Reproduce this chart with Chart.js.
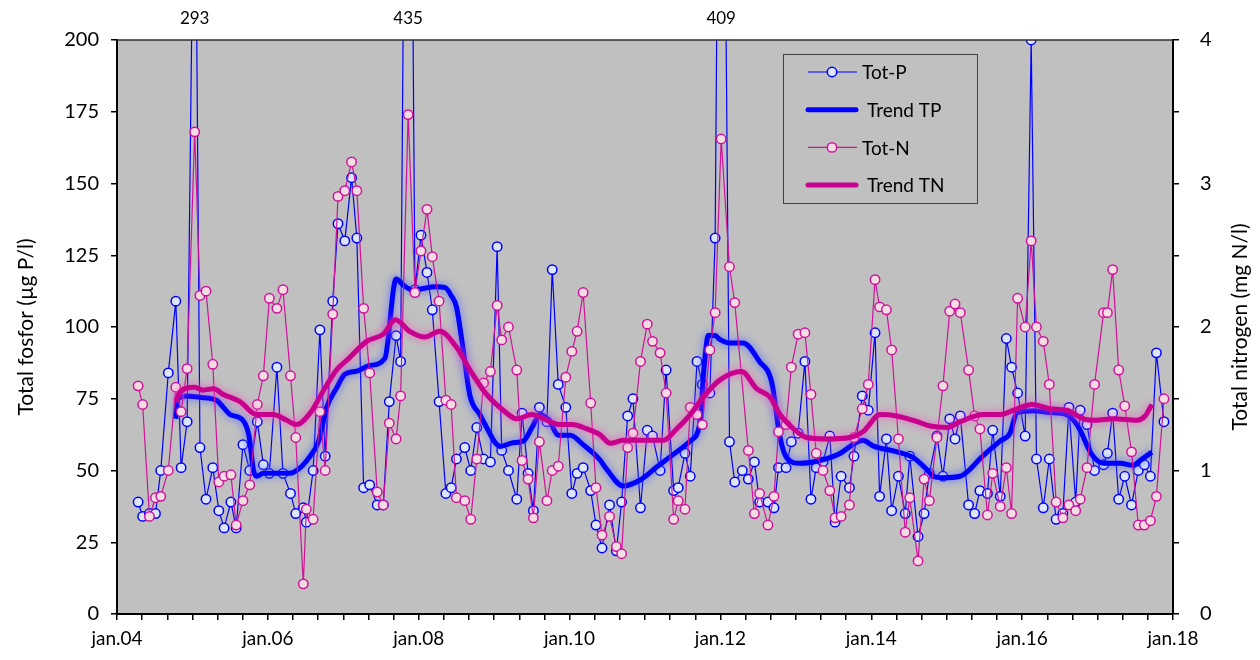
<!DOCTYPE html>
<html>
<head>
<meta charset="utf-8">
<script src="https://cdn.jsdelivr.net/npm/chart.js@4.4.0/dist/chart.umd.min.js"></script>
<style>
  body { margin: 0; background: #fff; }
  #wrap { width: 1260px; height: 660px; }
</style>
</head>
<body>
<div id="wrap"><canvas id="chart" width="1260" height="660"></canvas></div>
<script>
// sample dates (decimal years), shared by Tot-P and Tot-N
const dates = [
  2004.28, 2004.34, 2004.43, 2004.51, 2004.58, 2004.68, 2004.78, 2004.85, 2004.93, 2005.03, 2005.10, 2005.18, 2005.27, 2005.35, 2005.42, 2005.51, 2005.58,
  2005.67, 2005.76, 2005.86, 2005.94, 2006.02, 2006.12, 2006.20, 2006.30, 2006.37, 2006.47, 2006.51, 2006.60, 2006.69, 2006.76, 2006.86, 2006.93, 2007.02, 2007.11, 2007.18,
  2007.27, 2007.35, 2007.45, 2007.53, 2007.61, 2007.70, 2007.76, 2007.86, 2007.95, 2008.03, 2008.11, 2008.18, 2008.27, 2008.36, 2008.43, 2008.50, 2008.61, 2008.69, 2008.77,
  2008.86, 2008.95, 2009.04, 2009.10, 2009.19, 2009.30, 2009.37, 2009.45, 2009.52, 2009.60, 2009.70, 2009.77, 2009.85, 2009.95, 2010.03, 2010.10, 2010.18, 2010.28, 2010.35, 2010.43,
  2010.53, 2010.62, 2010.69, 2010.77, 2010.84, 2010.94, 2011.03, 2011.10, 2011.20, 2011.28, 2011.38, 2011.44, 2011.53, 2011.60, 2011.69, 2011.76, 2011.86, 2011.93, 2012.01,
  2012.12, 2012.19, 2012.29, 2012.37, 2012.45, 2012.52, 2012.63, 2012.71, 2012.77, 2012.87, 2012.94, 2013.03, 2013.12, 2013.20, 2013.27, 2013.36, 2013.45, 2013.52, 2013.60,
  2013.71, 2013.77, 2013.88, 2013.96, 2014.05, 2014.11, 2014.20, 2014.27, 2014.36, 2014.45, 2014.51, 2014.62, 2014.70, 2014.77, 2014.87, 2014.95, 2015.04, 2015.11, 2015.18,
  2015.29, 2015.37, 2015.44, 2015.54, 2015.61, 2015.71, 2015.79, 2015.86, 2015.94, 2016.04, 2016.12, 2016.19, 2016.28, 2016.36, 2016.45, 2016.54, 2016.62, 2016.71, 2016.77,
  2016.86, 2016.96, 2017.08, 2017.13, 2017.20, 2017.28, 2017.36, 2017.45, 2017.54, 2017.62, 2017.70, 2017.78, 2017.88
];

// Tot-P, µg P/l
const totP = [
  39, 34, 35, 35, 50, 84, 109, 51, 67, 293, 58, 40, 51, 36, 30, 39, 30,
  59, 50, 67, 52, 49, 86, 49, 42, 35, 37, 32, 50, 99, 55, 109, 136, 130, 152, 131,
  44, 45, 38, 38, 74, 97, 88, 435, 113, 132, 119, 106, 74, 42, 44, 54, 58, 50, 65,
  54, 53, 128, 57, 50, 40, 70, 49, 36, 72, 67, 120, 80, 72, 42, 49, 51, 43, 31, 23,
  38, 22, 39, 69, 75, 37, 64, 62, 50, 85, 43, 44, 56, 48, 88, 80, 77, 131, 409,
  60, 46, 50, 47, 53, 39, 39, 37, 51, 51, 60, 63, 88, 40, 51, 53, 62, 32, 48,
  44, 55, 76, 71, 98, 41, 61, 36, 48, 35, 55, 27, 35, 49, 62, 48, 68, 61, 69,
  38, 35, 43, 42, 64, 41, 96, 86, 77, 62, 200, 54, 37, 54, 33, 35, 72, 39, 71,
  66, 50, 52, 56, 70, 40, 48, 38, 50, 52, 48, 91, 67
];

// Tot-N, mg N/l
const totN = [
  1.59, 1.46, 0.68, 0.81, 0.82, 1.00, 1.58, 1.41, 1.71, 3.36, 2.22, 2.25, 1.74, 0.92, 0.96, 0.97, 0.62,
  0.79, 0.90, 1.46, 1.66, 2.20, 2.13, 2.26, 1.66, 1.23, 0.21, 0.73, 0.66, 1.41, 1.00, 2.09, 2.91, 2.95, 3.15, 2.95,
  2.13, 1.68, 0.85, 0.76, 1.33, 1.22, 1.52, 3.48, 2.24, 2.53, 2.82, 2.49, 2.18, 1.49, 1.46, 0.81, 0.79, 0.66, 1.08,
  1.61, 1.69, 2.15, 1.91, 2.00, 1.70, 1.07, 0.94, 0.67, 1.20, 0.79, 1.00, 1.03, 1.65, 1.83, 1.97, 2.24, 1.47, 0.88, 0.55,
  0.68, 0.47, 0.42, 1.16, 1.26, 1.76, 2.02, 1.90, 1.82, 1.54, 0.66, 0.79, 0.73, 1.44, 1.39, 1.32, 1.84, 2.10, 3.31,
  2.42, 2.17, null, 1.14, 0.70, 0.84, 0.62, 0.82, 1.27, 1.32, 1.72, 1.95, 1.96, 1.53, 1.12, 1.00, 0.86, 0.67, 0.68,
  0.76, 1.23, 1.43, 1.60, 2.33, 2.14, 2.12, 1.84, 1.22, 0.57, 0.81, 0.37, 0.94, 0.79, 1.23, 1.59, 2.11, 2.16, 2.10,
  1.70, 1.38, 1.29, 0.69, 0.98, 0.75, 1.02, 0.70, 2.20, 2.00, 2.60, 2.00, 1.90, 1.60, 0.78, 0.67, 0.76, 0.72, 0.80,
  1.02, 1.60, 2.10, 2.10, 2.40, 1.70, 1.45, 1.13, 0.62, 0.62, 0.65, 0.82, 1.50
];

// trend lines
const trendTPDates = [
  2004.78, 2004.81, 2004.92, 2005.10, 2005.32, 2005.41, 2005.50, 2005.67, 2005.75, 2005.81, 2005.85, 2005.94, 2006.12, 2006.29, 2006.43,
  2006.56, 2006.67, 2006.78, 2006.91, 2007.02, 2007.18, 2007.35, 2007.55, 2007.70, 2007.80, 2007.93, 2008.06, 2008.22, 2008.35, 2008.43,
  2008.50, 2008.59, 2008.68, 2008.81, 2008.86, 2009.08, 2009.25, 2009.39, 2009.50, 2009.61, 2009.74, 2009.85, 2010.01, 2010.18, 2010.40,
  2010.49, 2010.71, 2010.93, 2011.15, 2011.38, 2011.60, 2011.73, 2011.78, 2011.84, 2011.93, 2011.99, 2012.13, 2012.30, 2012.52, 2012.68,
  2012.79, 2012.88, 2013.05, 2013.32, 2013.59, 2013.78, 2013.89, 2014.03, 2014.34, 2014.56, 2014.73, 2014.82, 2014.95, 2015.18, 2015.48,
  2015.71, 2015.84, 2015.93, 2016.15, 2016.37, 2016.59, 2016.70, 2016.77, 2016.92, 2017.08, 2017.30, 2017.47, 2017.58, 2017.72
];
const trendTP = [
  68, 75, 76, 75.5, 74.5, 72, 69.5, 67.5, 62, 50, 48, 49, 49, 49, 51,
  55, 60, 72, 78.7, 83.5, 84.6, 86.6, 89, 116.7, 114.5, 112.8, 113.4, 114, 113.7, 111,
  107, 92, 76, 69.5, 67, 58.4, 59.7, 60.3, 64.9, 69.5, 66.9, 62.3, 62.3, 59, 53.8,
  50.5, 44.6, 46.6, 51.1, 55.7, 60.3, 66.9, 85, 97, 97, 95.7, 94.4, 94.4, 87.9, 80.7,
  61.6, 54.4, 52.5, 53.5, 56, 59.5, 60.5, 58.5, 56.5, 54.4, 50.5, 48, 47.5, 48, 55.1,
  60.3, 63, 70.2, 70.8, 70.2, 69.5, 67, 64, 55.7, 52.5, 52.5, 51.8, 53.8, 56.4
];

const trendTNDates = [
  2004.78, 2004.84, 2005.03, 2005.14, 2005.28, 2005.41, 2005.63, 2005.85, 2006.07, 2006.25, 2006.38, 2006.56, 2006.73, 2006.91, 2007.07,
  2007.31, 2007.53, 2007.69, 2007.88, 2008.08, 2008.28, 2008.50, 2008.68, 2008.90, 2009.12, 2009.30, 2009.50, 2009.70, 2009.87, 2010.03,
  2010.23, 2010.40, 2010.54, 2010.71, 2010.93, 2011.24, 2011.42, 2011.60, 2011.77, 2011.99, 2012.28, 2012.48, 2012.66, 2012.79, 2012.97,
  2013.14, 2013.41, 2013.72, 2013.89, 2014.12, 2014.34, 2014.61, 2014.78, 2015.00, 2015.18, 2015.48, 2015.71, 2015.93, 2016.13, 2016.37,
  2016.59, 2016.81, 2016.97, 2017.21, 2017.52, 2017.63, 2017.72
];
const trendTN = [
  1.48, 1.55, 1.58, 1.56, 1.57, 1.53, 1.48, 1.39, 1.39, 1.35, 1.32, 1.40, 1.55, 1.70, 1.78,
  1.90, 1.95, 2.05, 1.97, 1.93, 1.97, 1.86, 1.70, 1.53, 1.42, 1.36, 1.39, 1.35, 1.32, 1.32,
  1.29, 1.25, 1.19, 1.21, 1.21, 1.21, 1.29, 1.39, 1.51, 1.63, 1.69, 1.57, 1.51, 1.39, 1.29,
  1.23, 1.22, 1.23, 1.27, 1.39, 1.38, 1.34, 1.31, 1.30, 1.34, 1.39, 1.39, 1.43, 1.46, 1.43,
  1.42, 1.36, 1.35, 1.36, 1.35, 1.38, 1.46
];

const seriesNames = ['Tot-P', 'Trend TP', 'Tot-N', 'Trend TN'];
const pMax = 200;
const FONT = 'Lato, "Open Sans", sans-serif';

const toXY = (xs, ys) => xs.map((x, i) => ({ x: x, y: ys[i] }));

// gray plot area, top frame line
const plotBackground = {
    id: 'plotBackground',
    beforeDraw(chart) {
        const { ctx, chartArea: a } = chart;
        ctx.save();
        ctx.fillStyle = '#c0c0c0';
        ctx.fillRect(a.left, a.top, a.right - a.left, a.bottom - a.top);
        ctx.restore();
    },
    afterDraw(chart) {
        const { ctx, chartArea: a } = chart;
        ctx.save();
        ctx.strokeStyle = '#303030';
        ctx.lineWidth = 1.5;
        ctx.beginPath();
        ctx.moveTo(a.left, a.top);
        ctx.lineTo(a.right, a.top);
        ctx.stroke();
        ctx.restore();
    }
};

// soft halo round the trend lines
const glow = {
    id: 'glow',
    beforeDatasetDraw(chart, args) {
        const ds = chart.data.datasets[args.index];
        if (!ds.glowColor) return;
        chart.ctx.save();
        chart.ctx.shadowColor = ds.glowColor;
        chart.ctx.shadowBlur = 8;
    },
    afterDatasetDraw(chart, args) {
        if (chart.data.datasets[args.index].glowColor) chart.ctx.restore();
    }
};

// axis titles, off-scale peak values and the boxed legend
const extras = {
    id: 'extras',
    afterDraw(chart) {
        const { ctx, chartArea: a } = chart;
        const xs = chart.scales.x;
        ctx.save();
        ctx.fillStyle = '#000';
        ctx.textAlign = 'center';
        ctx.textBaseline = 'middle';

        ctx.font = '21px ' + FONT;
        const midY = (a.top + a.bottom) / 2;
        [[26, 'Total fosfor (µg P/l)'], [1240, 'Total nitrogen (mg N/l)']].forEach(([x, t]) => {
            ctx.save();
            ctx.translate(x, midY);
            ctx.rotate(-Math.PI / 2);
            ctx.fillText(t, 0, 0);
            ctx.restore();
        });

        ctx.font = '17px ' + FONT;
        totP.forEach((v, i) => {
            if (v > pMax) ctx.fillText(String(v), xs.getPixelForValue(dates[i]), 19);
        });

        // legend
        const bx = 783, by = 54, bw = 194, bh = 149;
        ctx.fillStyle = '#c0c0c0';
        ctx.fillRect(bx, by, bw, bh);
        ctx.strokeStyle = '#404040';
        ctx.lineWidth = 1;
        ctx.strokeRect(bx + 0.5, by + 0.5, bw, bh);
        ctx.font = '19px ' + FONT;
        ctx.textAlign = 'left';
        chart.data.datasets.forEach((ds, i) => {
            const y = 72 + i * 37.7;
            ctx.strokeStyle = ds.borderColor;
            ctx.lineWidth = ds.borderWidth;
            ctx.lineCap = ds.pointRadius ? 'butt' : 'round';
            ctx.beginPath();
            ctx.moveTo(808, y);
            ctx.lineTo(ds.pointRadius ? 857 : 856, y);
            ctx.stroke();
            if (ds.pointRadius) {
                ctx.beginPath();
                ctx.arc(832, y, ds.pointRadius, 0, Math.PI * 2);
                ctx.fillStyle = ds.pointBackgroundColor;
                ctx.fill();
                ctx.lineWidth = ds.pointBorderWidth;
                ctx.strokeStyle = ds.pointBorderColor;
                ctx.stroke();
            }
            ctx.fillStyle = '#000';
            ctx.fillText(ds.label, ds.pointRadius ? 862 : 867, y + 1);
        });
        ctx.restore();
    }
};

Chart.defaults.font.family = FONT;
Chart.defaults.color = '#000';

new Chart(document.getElementById('chart').getContext('2d'), {
    type: 'line',
    data: {
        datasets: [{
            label: seriesNames[0],
            data: toXY(dates, totP),
            yAxisID: 'yP',
            borderColor: '#0000ff',
            borderWidth: 1.2,
            pointRadius: 4.7,
            pointBackgroundColor: '#dde6fb',
            pointBorderColor: '#0000ff',
            pointBorderWidth: 1.5,
            order: 3
        }, {
            label: seriesNames[1],
            data: toXY(trendTPDates, trendTP),
            yAxisID: 'yP',
            borderColor: '#0000ff',
            borderWidth: 5,
            pointRadius: 0,
            cubicInterpolationMode: 'monotone',
            glowColor: 'rgba(80, 100, 255, 0.95)',
            order: 2
        }, {
            label: seriesNames[2],
            data: toXY(dates, totN),
            yAxisID: 'yN',
            borderColor: '#d0129a',
            borderWidth: 1.2,
            pointRadius: 4.7,
            pointBackgroundColor: '#f4dce3',
            pointBorderColor: '#d0129a',
            pointBorderWidth: 1.5,
            spanGaps: true,
            order: 1
        }, {
            label: seriesNames[3],
            data: toXY(trendTNDates, trendTN),
            yAxisID: 'yN',
            borderColor: '#c8008e',
            borderWidth: 5,
            pointRadius: 0,
            cubicInterpolationMode: 'monotone',
            glowColor: 'rgba(235, 90, 195, 0.95)',
            order: 0
        }]
    },
    options: {
        responsive: false,
        animation: false,
        events: [],
        layout: { padding: { top: 40, left: 0, right: 0, bottom: 0 } },
        plugins: {
            legend: { display: false },
            tooltip: { enabled: false }
        },
        scales: {
            x: {
                type: 'linear',
                min: 2004,
                max: 2018,
                afterFit(scale) { scale.height = 46; },
                afterBuildTicks(scale) {
                    scale.ticks = Array.from({ length: 43 }, (_, i) => ({ value: 2004 + i / 3 }));
                },
                ticks: {
                    autoSkip: false,
                    maxRotation: 0,
                    padding: 7,
                    font: { size: 19 },
                    callback: (v) => {
                        const yr = Math.round(v);
                        return (Math.abs(v - yr) < 1e-6 && yr % 2 === 0) ? 'jan.' + String(yr).slice(2) : '';
                    }
                },
                grid: { drawOnChartArea: false, tickLength: 6, color: '#000', lineWidth: 1.5 },
                border: { color: '#000', width: 2 }
            },
            yP: {
                position: 'left',
                min: 0,
                max: 200,
                afterFit(scale) { scale.width = 117; },
                ticks: { stepSize: 25, padding: 12, font: { size: 20 } },
                grid: { drawOnChartArea: false, tickLength: 6, color: '#000', lineWidth: 1.5 },
                border: { color: '#000', width: 2 }
            },
            yN: {
                position: 'right',
                min: 0,
                max: 4,
                afterFit(scale) { scale.width = 87; },
                ticks: {
                    stepSize: 0.5,
                    autoSkip: false,
                    padding: 21,
                    font: { size: 20 },
                    callback: (v) => Number.isInteger(v) ? v : ''
                },
                grid: { drawOnChartArea: false, tickLength: 6, color: '#000', lineWidth: 1.5 },
                border: { color: '#000', width: 2 }
            }
        }
    },
    plugins: [plotBackground, glow, extras]
});
</script>
</body>
</html>
